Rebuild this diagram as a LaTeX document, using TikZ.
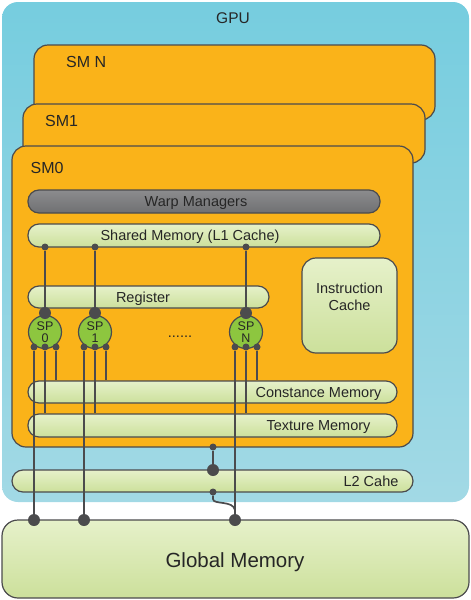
\documentclass[tikz,border=0pt]{standalone}
\usepackage{fontspec}
\setmainfont{Liberation Sans}
\definecolor{linec}{HTML}{4B4B4D}
\definecolor{textc}{HTML}{262626}
\definecolor{gpuA}{HTML}{76CDDF}
\definecolor{gpuB}{HTML}{A2D9E5}
\definecolor{orangeF}{HTML}{FAB319}
\definecolor{lgA}{HTML}{E6F1CA}
\definecolor{lgB}{HTML}{CCE09B}
\definecolor{grA}{HTML}{8C8C8E}
\definecolor{grB}{HTML}{6F7072}
\definecolor{spg}{HTML}{8DC63F}
\begin{document}
\begin{tikzpicture}[x=1pt,y=-1pt,
  smbox/.style={draw=linec, line width=1.2pt, fill=orangeF, rounded corners=14pt, inner sep=0},
  pill/.style={draw=linec, line width=1.2pt, rounded corners=11pt, top color=lgA, bottom color=lgB, inner sep=0},
  txt/.style={text=textc, font=\fontsize{14.5}{16}\selectfont, inner sep=0, text height=10.4pt, text depth=0pt},
  smtxt/.style={text=textc, font=\fontsize{16}{18}\selectfont, inner sep=0, anchor=west, text height=11.5pt, text depth=0pt},
  wire/.style={draw=linec, line width=1.7pt},
  dotS/.style={circle, fill=linec, inner sep=0, minimum size=7pt},
  dotB/.style={circle, fill=linec, inner sep=0, minimum size=12pt},
  spnode/.style={circle, draw=linec, line width=1.2pt, fill=spg, minimum size=33pt, inner sep=0, align=center, text=textc, font=\fontsize{12.5}{11.5}\selectfont}
]
\useasboundingbox (0,0) rectangle (471,600);

% GPU
\node[top color=gpuA, bottom color=gpuB, rounded corners=16pt, inner sep=0, minimum width=467pt, minimum height=500pt] (gpu) at (235.5,252) {};
\node[txt, font=\fontsize{15.5}{17}\selectfont, text height=11.1pt] (gputxt) at (233,18) {GPU};

% SMs
\node[smbox, minimum width=401pt, minimum height=75pt] (smN) at (234.5,82.5) {};
\node[smtxt] (smNtxt) at (66,62) {SM N};
\node[smbox, minimum width=402pt, minimum height=59pt] (sm1) at (224,133.5) {};
\node[smtxt] (sm1txt) at (45,121) {SM1};
\node[smbox, minimum width=401pt, minimum height=301pt] (sm0) at (212.5,296.5) {};
\node[smtxt] (sm0txt) at (30.5,168) {SM0};

% inner boxes
\node[pill, top color=grA, bottom color=grB, minimum width=352pt, minimum height=23pt] (warp) at (204,201.5) {};
\node[txt] (warptxt) at (196,201.5) {Warp Managers};
\node[pill, minimum width=352pt, minimum height=23pt] (shm) at (204,235.5) {};
\node[txt] (shmtxt) at (190,235.5) {Shared Memory (L1 Cache)};
\node[draw=linec, line width=1.2pt, rounded corners=14pt, top color=lgA, bottom color=lgB, minimum width=95pt, minimum height=95pt, inner sep=0] (icache) at (349.5,305.5) {};
\node[text=textc, inner sep=0, align=center, font=\fontsize{14.5}{17}\selectfont] (ictxt) at (349.5,297) {Instruction\\Cache};
\node[pill, minimum width=241pt, minimum height=22pt] (reg) at (148.5,297) {};
\node[txt] (regtxt) at (143,297) {Register};
\node[pill, minimum width=369pt, minimum height=22pt] (cm) at (212.5,392) {};
\node[txt] (cmtxt) at (318.5,392) {Constance Memory};
\node[pill, minimum width=369pt, minimum height=23pt] (tex) at (212.5,425.5) {};
\node[txt] (textxt) at (318.5,425.5) {Texture Memory};
\node[pill, minimum width=401pt, minimum height=22pt] (l2) at (212.5,481) {};
\node[txt] (l2txt) at (371,481) {L2 Cahe};

% global memory
\node[draw=linec, line width=1.2pt, rounded corners=16pt, top color=lgA, bottom color=lgB, minimum width=467pt, minimum height=78pt, inner sep=0] (glob) at (235.5,559) {};
\node[txt, font=\fontsize{20.5}{22}\selectfont, text height=14.7pt] (globtxt) at (235,560) {Global Memory};

\node[text=textc, inner sep=0, anchor=base, font=\fontsize{14.5}{16}\selectfont] (dots) at (180,337) {......};

% SPs
\foreach \i/\x in {0/45,1/95,N/246}{
  \node[spnode] (sp\i) at (\x,332) {SP\\\i};
  \node[dotB] (top\i) at (\x,313) {};
  \node[dotS] (sh\i) at (\x,247) {};
  \node[dotS] (bl\i) at ({\x-11},347) {};
  \node[dotS] (bm\i) at (\x,347) {};
  \node[dotS] (br\i) at ({\x+11},347) {};
  \draw[wire] (sh\i) -- (top\i);
  \draw[wire] (bm\i) -- (bm\i |- tex.north);
  \draw[wire] (br\i) -- (br\i |- cm.north);
}

% global connections
\node[dotB] (g0) at (34,520) {};
\node[dotB] (g1) at (84,520) {};
\node[dotB] (gN) at (235,520) {};
\draw[wire] (bl0) -- (g0);
\draw[wire] (bl1) -- (g1);
\draw[wire] (blN) -- (gN);

% SM0 to L2 to global
\node[dotS] (smd) at (213,447) {};
\node[dotB] (l2t) at (213,470) {};
\node[dotS] (l2b) at (213,492) {};
\coordinate (mrg) at (235,510);
\draw[wire] (smd) -- (l2t);
\draw[wire] (l2b) -- (213,499) .. controls (213,505) and (233,500) .. (mrg);
\end{tikzpicture}
\end{document}
